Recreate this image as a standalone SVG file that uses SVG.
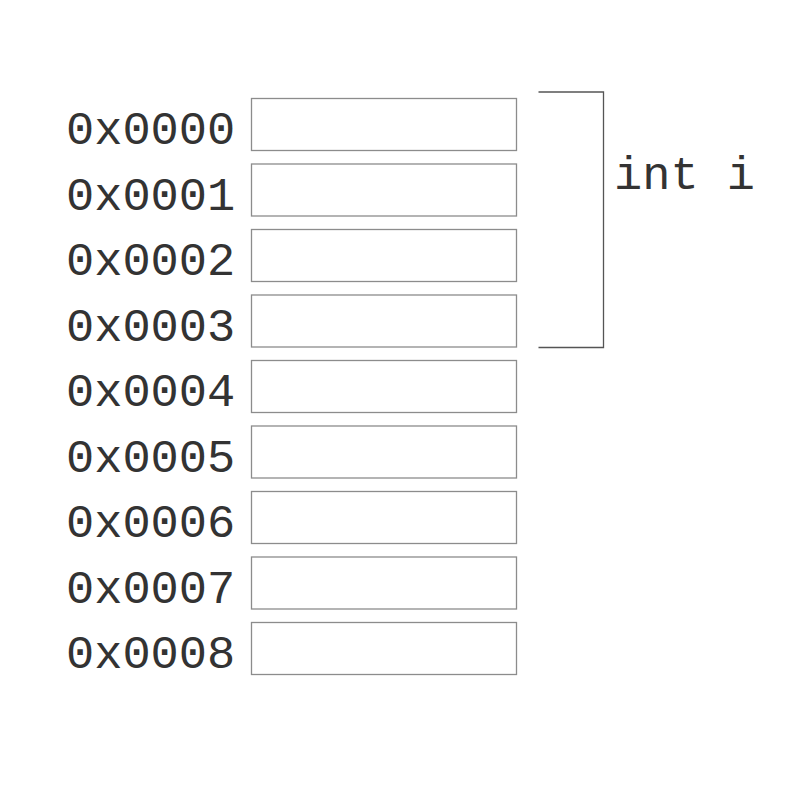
<svg xmlns="http://www.w3.org/2000/svg" width="800" height="800" viewBox="0 0 800 800">
<style>
.cell{fill:#fff;stroke:#8c8c8c;stroke-width:1.3}
.addr{font-family:"Liberation Mono","Courier New",monospace;font-size:47px;fill:#333}
.br{fill:none;stroke:#555;stroke-width:1.3}
</style>
<rect width="800" height="800" fill="#fff"/>
<g id="cell0"><rect class="cell" x="251.5" y="98.5" width="265" height="52"/><text class="addr" x="66" y="144">0x0000</text></g>
<g id="cell1"><rect class="cell" x="251.5" y="164" width="265" height="52"/><text class="addr" x="66" y="209.5">0x0001</text></g>
<g id="cell2"><rect class="cell" x="251.5" y="229.5" width="265" height="52"/><text class="addr" x="66" y="275">0x0002</text></g>
<g id="cell3"><rect class="cell" x="251.5" y="295" width="265" height="52"/><text class="addr" x="66" y="340.5">0x0003</text></g>
<g id="cell4"><rect class="cell" x="251.5" y="360.5" width="265" height="52"/><text class="addr" x="66" y="406">0x0004</text></g>
<g id="cell5"><rect class="cell" x="251.5" y="426" width="265" height="52"/><text class="addr" x="66" y="471.5">0x0005</text></g>
<g id="cell6"><rect class="cell" x="251.5" y="491.5" width="265" height="52"/><text class="addr" x="66" y="537">0x0006</text></g>
<g id="cell7"><rect class="cell" x="251.5" y="557" width="265" height="52"/><text class="addr" x="66" y="602.5">0x0007</text></g>
<g id="cell8"><rect class="cell" x="251.5" y="622.5" width="265" height="52"/><text class="addr" x="66" y="668">0x0008</text></g>
<g id="connectors">
<path class="br" d="M538.5,92 H603.5 V347.5 H538.5"/>
</g>
<g id="label-int-i"><text class="addr" x="614" y="189">int i</text></g>
</svg>
